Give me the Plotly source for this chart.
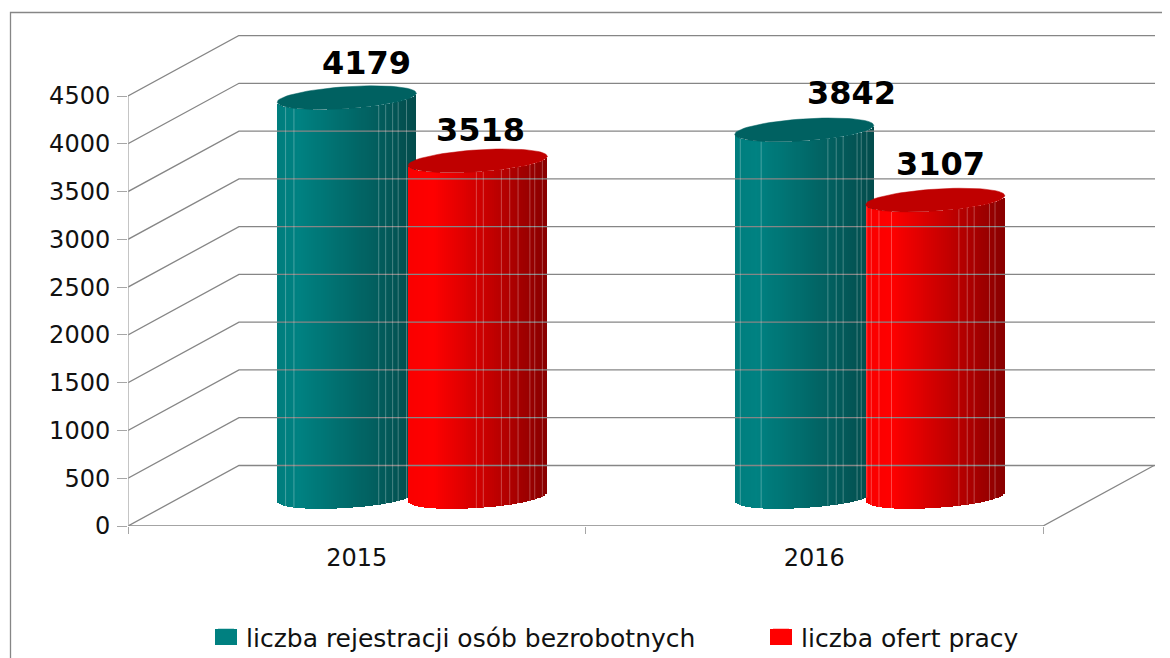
import numpy as np
import plotly.graph_objects as go

# ---- data ----
years = ["2015", "2016"]
rejestracje = [4179, 3842]
oferty = [3518, 3107]
series_names = ["liczba rejestracji osób bezrobotnych", "liczba ofert pracy"]
y_ticks = [0, 500, 1000, 1500, 2000, 2500, 3000, 3500, 4000, 4500]

# ---- styling ----
PAGE = 8                # page margin of the browser body
W, H = 1170 - PAGE, 658 - PAGE
PX_L, PX_R, PX_T, PX_B = 128 - PAGE, 1155 - PAGE, 35 - PAGE, 526 - PAGE   # plot area inside the figure
PX_PER_X = 457.5        # one category
PX_PER_Y = 430 / 4500   # one value unit
x_max = (PX_R - PX_L) / PX_PER_X
y_max = (PX_B - PX_T) / PX_PER_Y
DEPTH_X = 111 / PX_PER_X      # oblique depth of the 3D box
DEPTH_Y = 60.5 / PX_PER_Y
BAR_DX = 55.5 / PX_PER_X      # cylinders stand mid-depth
BAR_DY = 29 / PX_PER_Y
SPREAD = 65.5 / PX_PER_X      # half distance between the cylinders of a group
RADIUS = 69.5 / PX_PER_X
TILT = 4.5 / PX_PER_Y
MINOR = 11 / PX_PER_Y
GRID = "#868686"
TXT = "#111111"
FONT = "DejaVu Sans"
STRIP_N = 70

teal_stops = dict(t=[0, .15, 1], r=[0, 0, 4], g=[126, 130, 76], b=[126, 130, 76])
red_stops = dict(t=[0, .18, 1], r=[250, 255, 136], g=[0, 0, 0], b=[0, 0, 0])
teal_top, red_top = "#006161", "#bf0000"
# thin facet seams, as a fraction of the cylinder's width
seams = [
    [.06, .12, .73, .78, .83, .87, .93],
    [.49, .54, .67, .73, .79, .875, .91, .965],
    [.04, .19, .67, .73, .78, .88, .91, .95],
    [.04, .095, .185, .67, .73, .78, .89, .93],
]
label_shift = [(20, 35), (3, 31), (47, 37), (5, 36)]

fig = go.Figure()


def lower_arc(u):
    return TILT * u - MINOR * np.sqrt(np.clip(1 - u ** 2, 0, 1))


# gridlines on the two walls, plus floor edges
gx, gy = [], []
for v in y_ticks:
    gx += [0, DEPTH_X, x_max, None]
    gy += [v, v + DEPTH_Y, v + DEPTH_Y, None]
gx += [0, 2, 2 + DEPTH_X, None]
gy += [0, 0, DEPTH_Y, None]
fig.add_trace(go.Scatter(x=gx, y=gy, mode="lines", line=dict(color=GRID, width=1.3),
                         showlegend=False, hoverinfo="skip", cliponaxis=False))
fig.add_trace(go.Scatter(x=[0, 0], y=[0, y_ticks[-1]], mode="lines",
                         line=dict(color="#a6a6a6", width=1.3),
                         showlegend=False, hoverinfo="skip", cliponaxis=False))

# cylinders
cyl = []
for i in range(len(years)):
    cyl.append((i + .5 + BAR_DX - SPREAD, rejestracje[i], teal_stops, teal_top))
    cyl.append((i + .5 + BAR_DX + SPREAD, oferty[i], red_stops, red_top))

for n, (cx, val, stops, top) in enumerate(cyl):
    t = (np.arange(STRIP_N) + .5) / STRIP_N
    u = 2 * t - 1
    xs = cx + RADIUS * u
    base = BAR_DY + lower_arc(u)
    cols = [
        "rgb(%d,%d,%d)" % (np.interp(a, stops["t"], stops["r"]),
                           np.interp(a, stops["t"], stops["g"]),
                           np.interp(a, stops["t"], stops["b"]))
        for a in t
    ]
    fig.add_trace(go.Bar(x=xs, y=[val] * STRIP_N, base=base, width=2 * RADIUS / STRIP_N * 1.02,
                         marker=dict(color=cols, line=dict(width=0)),
                         showlegend=False, hoverinfo="skip"))
    sx, sy = [], []
    for s in seams[n]:
        su = 2 * s - 1
        xx = cx + RADIUS * su
        b0 = BAR_DY + lower_arc(su)
        sx += [xx, xx, None]
        sy += [b0, b0 + val, None]
    fig.add_trace(go.Scatter(x=sx, y=sy, mode="lines",
                             line=dict(color="rgba(255,255,255,0.28)", width=1),
                             showlegend=False, hoverinfo="skip"))
    th = np.linspace(0, 2 * np.pi, 73)
    ex = cx + RADIUS * np.cos(th)
    ey = BAR_DY + val + TILT * np.cos(th) + MINOR * np.sin(th)
    fig.add_trace(go.Scatter(x=ex, y=ey, mode="lines", fill="toself", fillcolor=top,
                             line=dict(color=top, width=0.5),
                             showlegend=False, hoverinfo="skip"))
    fig.add_annotation(x=cx, y=BAR_DY + val, text="<b>%d</b>" % val, showarrow=False,
                       xshift=label_shift[n][0], yshift=label_shift[n][1],
                       font=dict(family=FONT, size=32, color="#000000"))

# legend entries, one legend each so that they sit where the reference has them
for name, col, lg in zip(series_names, ["#008080", "#ff0000"], ["legend", "legend2"]):
    fig.add_trace(go.Scatter(x=[None], y=[None], mode="markers", name=name, legend=lg,
                             showlegend=True,
                             marker=dict(symbol="square", size=16, color=col)))


def px(xp):
    return (xp - PAGE - PX_L) / (PX_R - PX_L)


def py(yp):
    return (PX_B - (yp - PAGE)) / (PX_B - PX_T)


fig.add_shape(type="path", xref="paper", yref="paper",
              path="M %f,%f L %f,%f L %f,%f" % (px(10.5), py(658), px(10.5), py(12.5), px(1170), py(12.5)),
              line=dict(color=GRID, width=1.3))
# legend keys are wider than the native marker
for x0, col in zip([215, 770], ["#008080", "#ff0000"]):
    fig.add_shape(type="rect", xref="paper", yref="paper", x0=px(x0), x1=px(x0 + 22),
                  y0=py(629), y1=py(645), fillcolor=col, line=dict(width=0), layer="above")


def legend_at(left):
    return dict(orientation="h", xref="container", yref="container",
                x=(left - PAGE) / W, xanchor="left", y=1 - (637 - PAGE) / H, yanchor="middle",
                font=dict(size=25), itemwidth=30, bgcolor="rgba(0,0,0,0)")


fig.update_layout(
    width=W, height=H, autosize=False,
    margin=dict(l=PX_L, r=W - PX_R, t=PX_T, b=H - PX_B),
    paper_bgcolor="white", plot_bgcolor="white",
    barmode="overlay", bargap=0,
    font=dict(family=FONT, color=TXT),
    xaxis=dict(range=[0, x_max], tickmode="array", tickvals=[.5, 1.5], ticktext=years,
               showgrid=False, zeroline=False, showline=False, ticks="", ticklen=0,
               tickfont=dict(size=24), ticklabelstandoff=15,
               minor=dict(tickmode="array", tickvals=[0, 1, 2], ticks="outside", ticklen=7,
                          tickcolor="#a6a6a6", tickwidth=1.3, showgrid=False)),
    yaxis=dict(range=[0, y_max], tickmode="array", tickvals=y_ticks,
               showgrid=False, zeroline=False, showline=False, ticks="outside", ticklen=10,
               tickcolor="#a6a6a6", tickwidth=1.3, ticklabelstandoff=2, tickfont=dict(size=24)),
    legend=legend_at(206),
    legend2=legend_at(761),
)

fig.write_html("out.html")
